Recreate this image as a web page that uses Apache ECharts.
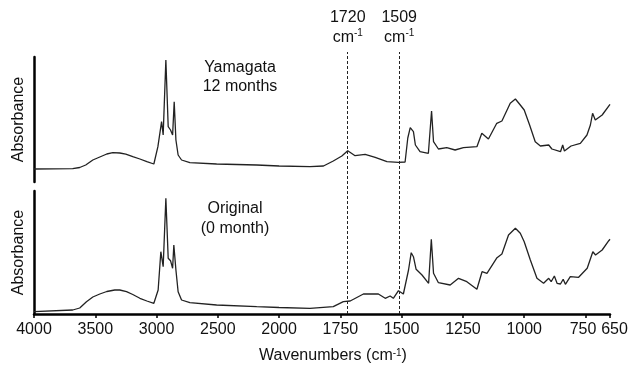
<!DOCTYPE html>
<html>
<head>
<meta charset="utf-8">
<script src="https://cdn.jsdelivr.net/npm/echarts@6/dist/echarts.min.js"></script>
<style>
  html, body { margin: 0; padding: 0; background: #fff; }
  #chart { width: 632px; height: 368px; }
</style>
</head>
<body>
<div id="chart"></div>
<script>
// Tick positions on the wavenumber axis (cm-1)
const tickWavenumbers = [4000, 3500, 3000, 2500, 2000, 1750, 1500, 1250, 1000, 750, 650];
// Carbonyl and aromatic marker bands
const markerWavenumbers = [1720, 1509];

// Weathered sample: Yamagata, 12 months
const yamagataWn = [4000, 3684, 3627, 3578, 3520, 3463, 3406, 3357, 3300, 3251, 3194, 3136, 3079, 3022, 2989, 2959, 2946, 2924, 2905, 2886, 2869, 2856, 2842, 2824, 2796, 2728, 2510, 2183, 2000, 1874, 1819, 1779, 1744, 1720, 1690, 1649, 1608, 1560, 1513, 1486, 1475, 1465, 1452, 1444, 1425, 1391, 1378, 1370, 1350, 1316, 1282, 1248, 1193, 1173, 1146, 1112, 1091, 1057, 1036, 1016, 1000, 978, 955, 934, 900, 887, 852, 843, 836, 809, 771, 744, 730, 721, 710, 682, 650];
const yamagataAbs = [0.130, 0.133, 0.145, 0.170, 0.220, 0.250, 0.280, 0.293, 0.290, 0.278, 0.253, 0.230, 0.203, 0.180, 0.353, 0.603, 0.470, 1.220, 0.553, 0.520, 0.470, 0.803, 0.420, 0.270, 0.220, 0.193, 0.180, 0.170, 0.160, 0.153, 0.160, 0.210, 0.260, 0.313, 0.263, 0.277, 0.247, 0.203, 0.197, 0.200, 0.440, 0.543, 0.503, 0.370, 0.303, 0.287, 0.710, 0.403, 0.330, 0.343, 0.320, 0.343, 0.353, 0.487, 0.430, 0.587, 0.610, 0.787, 0.830, 0.770, 0.720, 0.570, 0.403, 0.360, 0.370, 0.330, 0.303, 0.370, 0.310, 0.360, 0.387, 0.470, 0.570, 0.687, 0.620, 0.670, 0.777];

// Reference sample: original, 0 month
const originalWn = [4000, 3684, 3627, 3572, 3520, 3463, 3406, 3341, 3300, 3245, 3194, 3136, 3079, 3022, 2987, 2965, 2946, 2924, 2905, 2886, 2869, 2859, 2842, 2824, 2796, 2728, 2510, 2183, 2000, 1874, 1779, 1738, 1710, 1656, 1595, 1567, 1547, 1534, 1513, 1493, 1472, 1461, 1452, 1441, 1417, 1390, 1379, 1370, 1350, 1302, 1268, 1234, 1193, 1172, 1152, 1111, 1091, 1064, 1036, 1016, 1000, 975, 948, 921, 900, 890, 877, 866, 852, 841, 832, 812, 778, 743, 720, 709, 682, 655, 650];
const originalAbs = [0.023, 0.040, 0.060, 0.123, 0.170, 0.200, 0.225, 0.240, 0.240, 0.223, 0.195, 0.157, 0.130, 0.107, 0.240, 0.623, 0.473, 1.157, 0.557, 0.533, 0.457, 0.690, 0.440, 0.223, 0.140, 0.113, 0.090, 0.073, 0.065, 0.057, 0.073, 0.123, 0.130, 0.200, 0.200, 0.157, 0.180, 0.157, 0.233, 0.200, 0.440, 0.613, 0.573, 0.447, 0.390, 0.307, 0.747, 0.407, 0.313, 0.290, 0.357, 0.323, 0.247, 0.423, 0.407, 0.563, 0.600, 0.790, 0.857, 0.807, 0.723, 0.540, 0.357, 0.307, 0.357, 0.323, 0.380, 0.307, 0.300, 0.347, 0.297, 0.373, 0.367, 0.457, 0.623, 0.590, 0.640, 0.733, 0.747];

// Split wavenumber scale: 500 cm-1 per division above 2000, 250 cm-1 per division below.
function toAxis(w) { return w >= 2000 ? (4000 - w) / 500 : 4 + (2000 - w) / 250; }
function fromAxis(t) { return t <= 4 ? 4000 - t * 500 : 2000 - (t - 4) * 250; }

const FONT = '"Liberation Sans", Arial, Helvetica, sans-serif';
const INK = '#111';
const axisMin = toAxis(4000);
const axisMax = toAxis(650);
const tickPos = tickWavenumbers.map(toAxis);

function pairs(wn, ab) { return wn.map((w, i) => [toAxis(w), ab[i]]); }

// The last two ticks sit close together, so their labels are nudged apart.
function tickLabel(v) {
  const w = Math.round(fromAxis(v));
  if (w === 650) return '{r|' + w + '}';
  if (w === 750) return '{l|' + w + '}';
  return String(w);
}

const chart = echarts.init(document.getElementById('chart'), null, { renderer: 'canvas' });

const hiddenX = (gi) => ({ type: 'value', gridIndex: gi, min: axisMin, max: axisMax, show: false });
const panelY = (gi, max) => ({
  type: 'value', gridIndex: gi, min: 0, max: max,
  axisLine: { show: true, lineStyle: { color: '#000', width: 2.5 } },
  axisTick: { show: false }, axisLabel: { show: false }, splitLine: { show: false },
  name: 'Absorbance', nameLocation: 'middle', nameGap: 7,
  nameTextStyle: { fontFamily: FONT, fontSize: 16, color: INK }
});

const spectrumLine = { color: '#222', width: 1.3 };

chart.setOption({
  animation: false,
  backgroundColor: '#fff',
  grid: [
    { left: 34, right: 22, top: 57, height: 125 },
    { left: 34, right: 22, top: 191, height: 123 },
    { left: 34, right: 22, top: 52, height: 262 }
  ],
  xAxis: [
    hiddenX(0),
    {
      type: 'value', gridIndex: 1, min: axisMin, max: axisMax,
      axisLine: { show: true, onZero: false, lineStyle: { color: '#000', width: 2.5 } },
      axisTick: { show: true, customValues: tickPos, length: 4, lineStyle: { color: '#000', width: 1.5 } },
      axisLabel: {
        show: true, customValues: tickPos, margin: 8,
        fontFamily: FONT, fontSize: 16, color: INK,
        formatter: tickLabel,
        rich: {
          r: { fontFamily: FONT, fontSize: 16, color: INK, padding: [0, 0, 0, 9] },
          l: { fontFamily: FONT, fontSize: 16, color: INK, padding: [0, 5, 0, 0] }
        }
      },
      splitLine: { show: false }
    },
    hiddenX(2)
  ],
  yAxis: [
    panelY(0, 1.25),
    panelY(1, 1.23),
    { type: 'value', gridIndex: 2, min: 0, max: 1, show: false }
  ],
  series: [
    {
      name: 'Yamagata 12 months', type: 'line', xAxisIndex: 0, yAxisIndex: 0,
      data: pairs(yamagataWn, yamagataAbs), showSymbol: false, lineStyle: spectrumLine, silent: true
    },
    {
      name: 'Original (0 month)', type: 'line', xAxisIndex: 1, yAxisIndex: 1,
      data: pairs(originalWn, originalAbs), showSymbol: false, lineStyle: spectrumLine, silent: true
    },
    {
      name: 'Marker bands', type: 'line', xAxisIndex: 2, yAxisIndex: 2, data: [],
      markLine: {
        silent: true, symbol: 'none',
        lineStyle: { type: [3, 2], color: '#222', width: 1 },
        label: {
          show: true, position: 'end', distance: 4,
          fontFamily: FONT, fontSize: 16, lineHeight: 20, color: INK,
          formatter: (p) => p.name + '\ncm{sup|-1}',
          rich: { sup: { fontFamily: FONT, fontSize: 10, lineHeight: 20, verticalAlign: 'top', color: INK } }
        },
        data: markerWavenumbers.map((w) => ({ name: String(w), xAxis: toAxis(w) }))
      }
    }
  ],
  graphic: [
    {
      type: 'text', x: 240, y: 58,
      style: { text: 'Yamagata\n12 months', align: 'center', verticalAlign: 'top',
        fontFamily: FONT, fontSize: 16, lineHeight: 19, fill: INK }
    },
    {
      type: 'text', x: 235, y: 199,
      style: { text: 'Original\n(0 month)', align: 'center', verticalAlign: 'top',
        fontFamily: FONT, fontSize: 16, lineHeight: 20, fill: INK }
    },
    {
      type: 'text', x: 333, y: 356,
      style: {
        text: 'Wavenumbers (cm{sup|-1})', align: 'center', verticalAlign: 'middle',
        fontFamily: FONT, fontSize: 16, fill: INK,
        rich: { sup: { fontFamily: FONT, fontSize: 10, verticalAlign: 'top', fill: INK } }
      }
    }
  ]
});
</script>
</body>
</html>
